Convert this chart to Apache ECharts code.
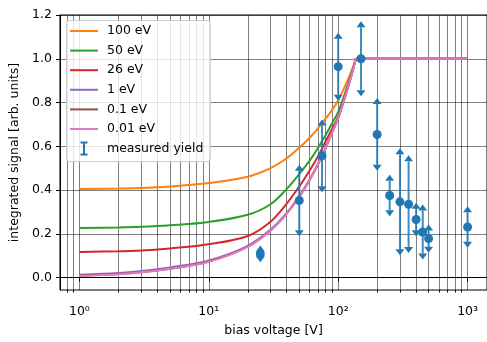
<!DOCTYPE html>
<html><head><meta charset="utf-8">
<script src="https://cdn.jsdelivr.net/npm/echarts@6/dist/echarts.min.js"></script>
<style>html,body{margin:0;padding:0;background:#fff}#c{width:487px;height:342px}</style>
</head><body><div id="c"></div>
<script>
// bias voltage sample points for model curves (rising part up to the knee, then flat)
const biasV   = [1, 2, 3, 5, 10, 20, 30, 40, 50, 60, 70, 80, 90, 100, 120, 137];
const flatV   = [137, 1000];
const sig100  = [0.405,0.407,0.409,0.416,0.432,0.461,0.500,0.545,0.593,0.638,0.683,0.727,0.767,0.810,0.910,1.0];
const sig50   = [0.226,0.229,0.232,0.239,0.254,0.287,0.335,0.405,0.473,0.533,0.593,0.652,0.707,0.757,0.890,1.0];
const sig26   = [0.117,0.120,0.123,0.133,0.152,0.190,0.255,0.338,0.416,0.488,0.555,0.623,0.681,0.735,0.880,1.0];
const sig1    = [0.013,0.021,0.030,0.046,0.078,0.145,0.219,0.295,0.372,0.447,0.521,0.593,0.666,0.730,0.877,1.0];
const sig01   = [0.008,0.016,0.024,0.040,0.073,0.141,0.215,0.292,0.369,0.445,0.519,0.592,0.665,0.729,0.876,1.0];
const sig001  = [0.007,0.015,0.024,0.040,0.072,0.140,0.215,0.292,0.369,0.445,0.519,0.591,0.665,0.728,0.876,1.0];
const flatSig = [1.0, 1.0];
// measured yield
const measV   = [25, 50, 75, 100, 150, 200, 250, 300, 350, 400, 450, 500, 1000];
const measY   = [0.108,0.352,0.556,0.964,1.0,0.654,0.375,0.346,0.335,0.265,0.208,0.178,0.231];
const measErr = [0.011,0.136,0.139,0.128,0.144,0.139,0.067,0.217,0.196,0.049,0.098,0.037,0.067];
// ticks
const xMajor = [1, 10, 100, 1000];
const xMajorLabels = ['10⁰', '10¹', '10²', '10³'];
const xMinor = [0.8,0.9,2,3,4,5,6,7,8,9,20,30,40,50,60,70,80,90,200,300,400,500,600,700,800,900];
const yTicks = [0, 0.2, 0.4, 0.6, 0.8, 1.0, 1.2];
const seriesNames = ['100 eV', '50 eV', '26 eV', '1 eV', '0.1 eV', '0.01 eV'];
const seriesData = [sig100, sig50, sig26, sig1, sig01, sig001];
const colors = ['#ff7f0e', '#2ca02c', '#d62728', '#9467bd', '#8c564b', '#e377c2'];
const errName = 'measured yield';

const X_MIN = Math.pow(10, -0.15), X_MAX = Math.pow(10, 3.15);
const Y_MIN = -0.057, Y_MAX = 1.2;
const FONT = 'DejaVu Sans';
const GRIDC = 'rgba(0,0,0,0.5)';

const chart = echarts.init(document.getElementById('c'), null, {renderer: 'canvas'});

const lineSeries = [];
seriesNames.forEach((n, k) => {
  lineSeries.push({
    name: n, type: 'line', xAxisIndex: 0, yAxisIndex: 0,
    data: biasV.map((v, i) => [v, seriesData[k][i]]),
    symbol: 'none', smooth: 0.35, lineStyle: {width: 2, color: colors[k]}, itemStyle: {color: colors[k]},
    z: 3, silent: true
  });
  lineSeries.push({
    name: n, type: 'line', xAxisIndex: 0, yAxisIndex: 0,
    data: flatV.map((v, i) => [v, flatSig[i]]),
    symbol: 'none', lineStyle: {width: 2, color: colors[k]}, itemStyle: {color: colors[k]},
    z: 3, silent: true
  });
});

const errSeries = {
  name: errName, type: 'custom', xAxisIndex: 0, yAxisIndex: 0,
  data: measV.map((v, i) => [v, measY[i], measErr[i]]),
  encode: {x: 0, y: 1},
  itemStyle: {color: '#1f77b4'},
  z: 5, silent: true,
  renderItem: function (params, api) {
    const x = api.value(0), y = api.value(1), e = api.value(2);
    const c = api.coord([x, y]);
    const t = api.coord([x, y + e]);
    const b = api.coord([x, y - e]);
    const w = 4.5, h = 6;
    return {type: 'group', children: [
      {type: 'line', shape: {x1: t[0], y1: t[1], x2: b[0], y2: b[1]}, style: {stroke: '#1f77b4', lineWidth: 2, opacity: 0.85}},
      {type: 'polygon', shape: {points: [[t[0], t[1] - h], [t[0] - w, t[1]], [t[0] + w, t[1]]]}, style: {fill: '#1f77b4'}},
      {type: 'polygon', shape: {points: [[b[0], b[1] + h], [b[0] - w, b[1]], [b[0] + w, b[1]]]}, style: {fill: '#1f77b4'}},
      {type: 'circle', shape: {cx: c[0], cy: c[1], r: 4.5}, style: {fill: '#1f77b4'}}
    ]};
  }
};

const LINE_ICON = 'path://M0,0H28V2H0Z';
const option = {
  animation: false,
  backgroundColor: '#fff',
  textStyle: {fontFamily: FONT},
  grid: {left: 60, top: 15, bottom: 47, right: -2.5, show: true, borderColor: '#000', borderWidth: 1, backgroundColor: 'transparent'},
  legend: {
    orient: 'vertical', left: 66.5, top: 20.5,
    padding: [3.5, 7, 6, 3.5], itemGap: 5.6, itemWidth: 28, itemHeight: 14,
    backgroundColor: 'rgba(255,255,255,0.8)', borderColor: '#cccccc', borderWidth: 1, borderRadius: 3,
    textStyle: {fontFamily: FONT, fontSize: 12.5, color: '#000', padding: [0, 0, 0, 4], lineHeight: 14},
    data: seriesNames.map(n => ({name: n, icon: LINE_ICON})).concat([{name: errName, icon: 'path://M0,0H7V2H4.5V12H7V14H0V12H2.5V2H0Z'}])
  },
  xAxis: [{
    type: 'log', min: X_MIN, max: X_MAX, gridIndex: 0, position: 'bottom',
    name: 'bias voltage [V]', nameLocation: 'middle', nameGap: 34,
    nameTextStyle: {fontFamily: FONT, fontSize: 12.5, color: '#000'},
    axisLine: {show: true, lineStyle: {color: '#000', width: 1}},
    axisTick: {show: true, length: 4, lineStyle: {color: '#000', width: 1}, customValues: xMajor},
    axisLabel: {show: true, margin: 15, fontFamily: FONT, fontSize: 12.5, color: '#000', customValues: xMajor,
      formatter: function (v) { const i = xMajor.indexOf(Math.round(v)); return i >= 0 ? xMajorLabels[i] : ''; }},
    splitLine: {show: true, lineStyle: {color: GRIDC, width: 1}},
    minorTick: {show: false}, minorSplitLine: {show: false}
  }, {
    type: 'log', min: X_MIN, max: X_MAX, gridIndex: 0, position: 'bottom',
    axisLine: {show: false},
    axisTick: {show: true, length: 2.5, lineStyle: {color: '#000', width: 1}, customValues: xMinor},
    axisLabel: {show: false},
    splitLine: {show: true, lineStyle: {color: GRIDC, width: 1}}
  }],
  yAxis: [{
    type: 'value', min: Y_MIN, max: Y_MAX, gridIndex: 0,
    name: 'integrated signal [arb. units]', nameLocation: 'middle', nameGap: 36, nameRotate: 90,
    nameTextStyle: {fontFamily: FONT, fontSize: 12.5, color: '#000'},
    axisLine: {show: true, lineStyle: {color: '#000', width: 1}},
    axisTick: {show: true, length: 4, lineStyle: {color: '#000', width: 1}, customValues: yTicks},
    axisLabel: {show: true, margin: 8, fontFamily: FONT, fontSize: 12.5, color: '#000', customValues: yTicks,
      formatter: function (v) { return v.toFixed(1); }},
    splitLine: {show: true, lineStyle: {color: GRIDC, width: 1}}
  }],
  series: lineSeries.concat([errSeries])
};
chart.setOption(option);
</script>
</body></html>
